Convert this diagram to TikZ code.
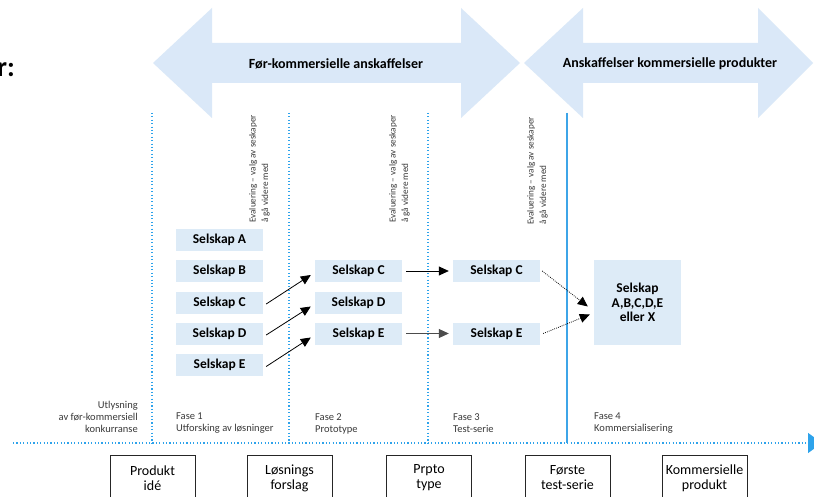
\documentclass[tikz,border=0pt]{standalone}
\usepackage{fontspec}
\setmainfont{Carlito}
\usetikzlibrary{arrows.meta,positioning,calc}
\definecolor{bandfill}{HTML}{DAE8F8}
\definecolor{boxfill}{HTML}{DDEBF7}
\definecolor{dotblue}{HTML}{2EA3EB}
\definecolor{solidblue}{HTML}{3DA5E8}
\definecolor{txtgrey}{HTML}{3A3A3A}
\tikzset{
  company/.style={fill=boxfill, minimum width=87pt, minimum height=22pt, inner sep=0pt, font=\fontsize{13.5}{15}\selectfont\bfseries},
  bigbox/.style={fill=boxfill, minimum width=87pt, minimum height=85pt, inner sep=0pt, align=center, font=\fontsize{13.5}{14.5}\selectfont\bfseries},
  milestone/.style={draw=black!85, line width=0.9pt, fill=white, minimum width=85pt, minimum height=58pt, inner sep=0pt, text depth=0pt},
  mtext/.style={align=center, font=\fontsize{14}{15}\selectfont, inner sep=0pt},
  phase/.style={align=left, anchor=north west, inner sep=0pt, text=txtgrey, font=\fontsize{10.5}{12}\selectfont},
  evaltext/.style={rotate=90, anchor=south west, align=left, inner sep=0pt, text=txtgrey, font=\fontsize{9.2}{12.5}\selectfont},
  sep/.style={dotblue, line width=1.2pt, dash pattern=on 1.1pt off 2.3pt},
  solidsep/.style={solidblue, line width=1.5pt},
  band/.style={fill=bandfill, draw=none},
  bandtext/.style={font=\fontsize{14}{16}\selectfont\bfseries, inner sep=0pt},
  conn/.style={line width=0.8pt, -{Triangle[length=10pt,width=9pt]}},
  dconn/.style={line width=0.8pt, dash pattern=on 0.8pt off 1.2pt, -{Triangle[length=10pt,width=9pt]}},
}
\begin{document}
\begin{tikzpicture}[x=1pt,y=-1pt]
\useasboundingbox (0,0) rectangle (814,497);
\clip (0,0) rectangle (814,497);
\fill[white] (0,0) rectangle (814,497);

% cropped title fragment
\node[anchor=base east, inner sep=0pt, font=\fontsize{28}{30}\selectfont\bfseries] (title) at (15,77) {r:};

% double arrows
\path[band] (153,63) -- (212,8) -- (212,43) -- (461,43) -- (461,8) -- (520,63) -- (461,118) -- (461,83) -- (212,83) -- (212,118) -- cycle;
\path[band] (524,63) -- (583,8) -- (583,43) -- (758,43) -- (758,8) -- (813,63) -- (758,118) -- (758,83) -- (583,83) -- (583,118) -- cycle;
\node[bandtext] (band1) at (336,64) {Før-kommersielle anskaffelser};
\node[bandtext] (band2) at (670,64) {Anskaffelser kommersielle produkter};

% vertical separators
\coordinate (v1t) at (152,113); \coordinate (v1b) at (152,443);
\coordinate (v2t) at (289,113); \coordinate (v2b) at (289,443);
\coordinate (v3t) at (428,113); \coordinate (v3b) at (428,443);
\coordinate (v4t) at (567,113); \coordinate (v4b) at (567,443);
\draw[sep] (v1t) -- (v1b);
\draw[sep] (v2t) -- (v2b);
\draw[sep] (v3t) -- (v3b);
\draw[solidsep] (v4t) -- (v4b);

% horizontal axis
\coordinate (axl) at (13,443);
\coordinate (axr) at (822,443);
\draw[sep, -{Triangle[length=14pt,width=20pt,fill=dotblue]}] (axl) -- (axr);

% evaluation texts
\node[evaltext] (eval1) at (270,223) {Evaluering – valg av seskaper\\å gå videre med};
\node[evaltext] (eval2) at (410,223) {Evaluering – valg av seskaper\\å gå videre med};
\node[evaltext] (eval3) at (548,225) {Evaluering – valg av seskaper\\å gå videre med};

% companies column 1
\node[company] (a1) at (219.5,240) {Selskap A};
\node[company] (b1) at (219.5,271) {Selskap B};
\node[company] (c1) at (219.5,302.5) {Selskap C};
\node[company] (d1) at (219.5,333.5) {Selskap D};
\node[company] (e1) at (219.5,365) {Selskap E};
% column 2
\node[company] (c2) at (358.5,271) {Selskap C};
\node[company] (d2) at (358.5,302.5) {Selskap D};
\node[company] (e2) at (358.5,333.5) {Selskap E};
% column 3
\node[company] (c3) at (496.5,271) {Selskap C};
\node[company] (e3) at (496.5,333.5) {Selskap E};
% final
\node[bigbox] (fin) at (637.5,302.5) {Selskap\\A,B,C,D,E\\eller X};

% connectors
\draw[conn] ([shift={(3pt,-1.5pt)}]c1.east) -- ([shift={(-4pt,-4pt)}]c2.west);
\draw[conn] ([shift={(3pt,-1.5pt)}]d1.east) -- ([shift={(-4pt,-4pt)}]d2.west);
\draw[conn] ([shift={(3pt,-1.5pt)}]e1.east) -- ([shift={(-4pt,-4pt)}]e2.west);
\draw[conn] ([xshift=4pt]c2.east) -- ([xshift=-4pt]c3.west);
\draw[conn, draw=black!70] ([xshift=4pt]e2.east) -- ([xshift=-4pt]e3.west);
\draw[dconn] ([xshift=2pt]c3.east) -- ([shift={(-6pt,-4pt)}]fin.west);
\draw[dconn] ([xshift=3pt]e3.east) -- ([shift={(-4pt,-12pt)}]fin.west);

% phase labels
\node[align=right, anchor=north east, inner sep=0pt, text=txtgrey, font=\fontsize{10.5}{12}\selectfont] (utl) at (138,401) {Utlysning\\av før-kommersiell\\konkurranse};
\node[phase] (f1) at (176,413) {Fase 1\\Utforsking av løsninger};
\node[phase] (f2) at (315,413) {Fase 2\\Prototype};
\node[phase] (f3) at (453,413) {Fase 3\\Test-serie};
\node[phase] (f4) at (594,413) {Fase 4\\Kommersialisering};

% milestone boxes
\node[milestone, anchor=north] (m1) at (152.5,455) {};
\node[milestone, anchor=north] (m2) at (289.5,455) {};
\node[milestone, anchor=north] (m3) at (429,455) {};
\node[milestone, anchor=north] (m4) at (567.5,455) {};
\node[milestone, anchor=north] (m5) at (704.5,455) {};
\node[mtext] (t1) at (152.5,478) {Produkt\\idé};
\node[mtext] (t2) at (289.5,478) {Løsnings\\forslag};
\node[mtext] (t3) at (429,478) {Prpto\\type};
\node[mtext] (t4) at (567.5,478) {Første\\test-serie};
\node[mtext] (t5) at (704.5,478) {Kommersielle\\produkt};
\end{tikzpicture}
\end{document}
